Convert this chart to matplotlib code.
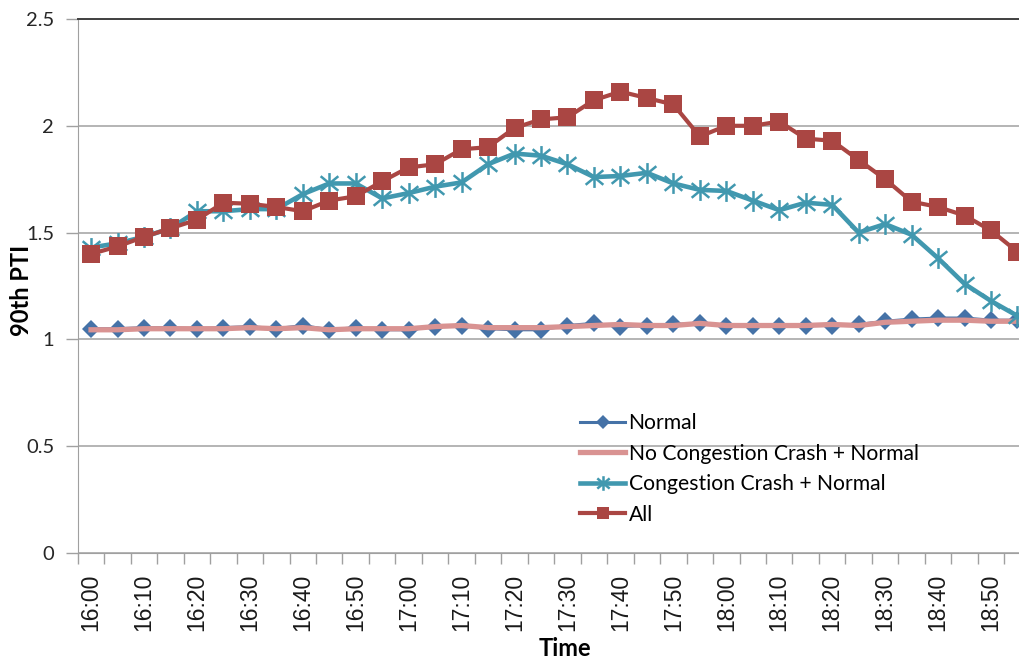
import matplotlib
matplotlib.use("Agg")
import matplotlib.pyplot as plt
from matplotlib.path import Path

times = ["16:00", "16:05", "16:10", "16:15", "16:20", "16:25", "16:30", "16:35",
         "16:40", "16:45", "16:50", "16:55", "17:00", "17:05", "17:10", "17:15",
         "17:20", "17:25", "17:30", "17:35", "17:40", "17:45", "17:50", "17:55",
         "18:00", "18:05", "18:10", "18:15", "18:20", "18:25", "18:30", "18:35",
         "18:40", "18:45", "18:50", "18:55"]

normal = [1.05, 1.05, 1.055, 1.055, 1.05, 1.055, 1.06, 1.05, 1.065, 1.045, 1.055, 1.045,
          1.045, 1.06, 1.065, 1.05, 1.045, 1.045, 1.065, 1.075, 1.06, 1.065, 1.07, 1.075,
          1.065, 1.065, 1.065, 1.065, 1.065, 1.07, 1.085, 1.095, 1.10, 1.10, 1.09, 1.09]

no_cong = [1.045, 1.045, 1.05, 1.05, 1.05, 1.05, 1.055, 1.05, 1.055, 1.045, 1.05, 1.05,
           1.05, 1.06, 1.065, 1.055, 1.055, 1.055, 1.06, 1.065, 1.07, 1.065, 1.065, 1.075,
           1.065, 1.065, 1.065, 1.065, 1.07, 1.065, 1.08, 1.085, 1.09, 1.09, 1.085, 1.085]

cong = [1.43, 1.45, 1.48, 1.52, 1.60, 1.60, 1.61, 1.61, 1.68, 1.73, 1.73, 1.66,
        1.685, 1.715, 1.735, 1.82, 1.87, 1.86, 1.82, 1.76, 1.765, 1.78, 1.73, 1.70,
        1.695, 1.65, 1.605, 1.64, 1.63, 1.50, 1.54, 1.49, 1.38, 1.26, 1.18, 1.11]

all_ = [1.40, 1.435, 1.48, 1.52, 1.56, 1.64, 1.635, 1.62, 1.60, 1.65, 1.67, 1.74,
        1.805, 1.82, 1.89, 1.90, 1.99, 2.03, 2.04, 2.12, 2.16, 2.13, 2.10, 1.95,
        2.00, 2.00, 2.02, 1.94, 1.93, 1.84, 1.75, 1.645, 1.62, 1.58, 1.51, 1.41]

labels = ["Normal", "No Congestion Crash + Normal", "Congestion Crash + Normal", "All"]
yticks = [0, 0.5, 1, 1.5, 2, 2.5]

C_BLUE = "#4572A7"
C_PINK = "#D99392"
C_TEAL = "#4198AF"
C_RED = "#AA4643"

star = Path([(0, -1), (0, 1), (-0.85, -0.7), (0.85, 0.7), (-0.85, 0.7), (0.85, -0.7)],
            [Path.MOVETO, Path.LINETO, Path.MOVETO, Path.LINETO, Path.MOVETO, Path.LINETO])

fig = plt.figure(figsize=(10.2, 6.63), dpi=100)
W, H = 1020, 663
left_px, right_px, top_px, bot_px = 77.8, 1030.7, 19.0, 553.0
ax = fig.add_axes([left_px / W, 1 - bot_px / H, (right_px - left_px) / W, (bot_px - top_px) / H])

x = list(range(len(times)))
ax.plot(x, normal, color=C_BLUE, lw=2.2, marker="D", ms=9.5, mec=C_BLUE, mew=0, label=labels[0], zorder=3)
ax.plot(x, no_cong, color=C_PINK, lw=3.8, label=labels[1], zorder=4)
ax.plot(x, cong, color=C_TEAL, lw=3.3, marker=star, ms=15, mec=C_TEAL, mfc="none", mew=1.8,
        label=labels[2], zorder=5)
ax.plot(x, all_, color=C_RED, lw=3.0, marker="s", ms=12.5, mec=C_RED, mew=0, label=labels[3], zorder=6)

ax.set_xlim(-0.5, len(times) - 0.5)
ax.set_ylim(0, 2.5)

# category tick marks at boundaries, labels every other category
ax.set_xticks([i - 0.5 for i in range(len(times) + 1)])
ax.set_xticklabels([])
ax.set_xticks(x[::2], minor=True)
ax.set_xticklabels(times[::2], minor=True, rotation=90, fontsize=16.5,
                   family=["Liberation Sans", "DejaVu Sans"])
ax.tick_params(axis="x", which="major", length=8, width=1, color="#A0A0A0", direction="out")
ax.tick_params(axis="x", which="minor", length=0, pad=15, labelcolor="#1a1a1a")

ax.set_yticks(yticks)
ax.set_yticklabels(["0", "0.5", "1", "1.5", "2", "2.5"], fontsize=14.5,
                   family=["Lato", "DejaVu Sans"], color="#262626")
ax.tick_params(axis="y", length=9, width=1, color="#A0A0A0", pad=8)

ax.grid(axis="y", color="#A0A0A0", lw=1.1, zorder=0)
ax.set_axisbelow(True)
ax.spines["right"].set_visible(False)
ax.spines["top"].set_color("#404040")
ax.spines["top"].set_linewidth(1.4)
ax.spines["left"].set_color("#A0A0A0")
ax.spines["bottom"].set_color("#A0A0A0")

fig.text(22 / W, 1 - 290 / H, "90th PTI", fontsize=17, fontweight="bold", rotation=90,
         family=["Lato", "DejaVu Sans"], ha="center", va="center")
fig.text(565 / W, 1 - 648 / H, "Time", fontsize=17, fontweight="bold",
         family=["Lato", "DejaVu Sans"], ha="center", va="center")

leg = fig.legend(loc="upper left", bbox_to_anchor=(580 / W, 1 - 413 / H), frameon=False,
                 prop={"family": ["Lato", "DejaVu Sans"], "size": 15.2}, handlelength=2.15,
                 handletextpad=0.15, labelspacing=0.5, borderpad=0, borderaxespad=0,
                 markerscale=0.7)

fig.savefig("out.png", dpi=100)
